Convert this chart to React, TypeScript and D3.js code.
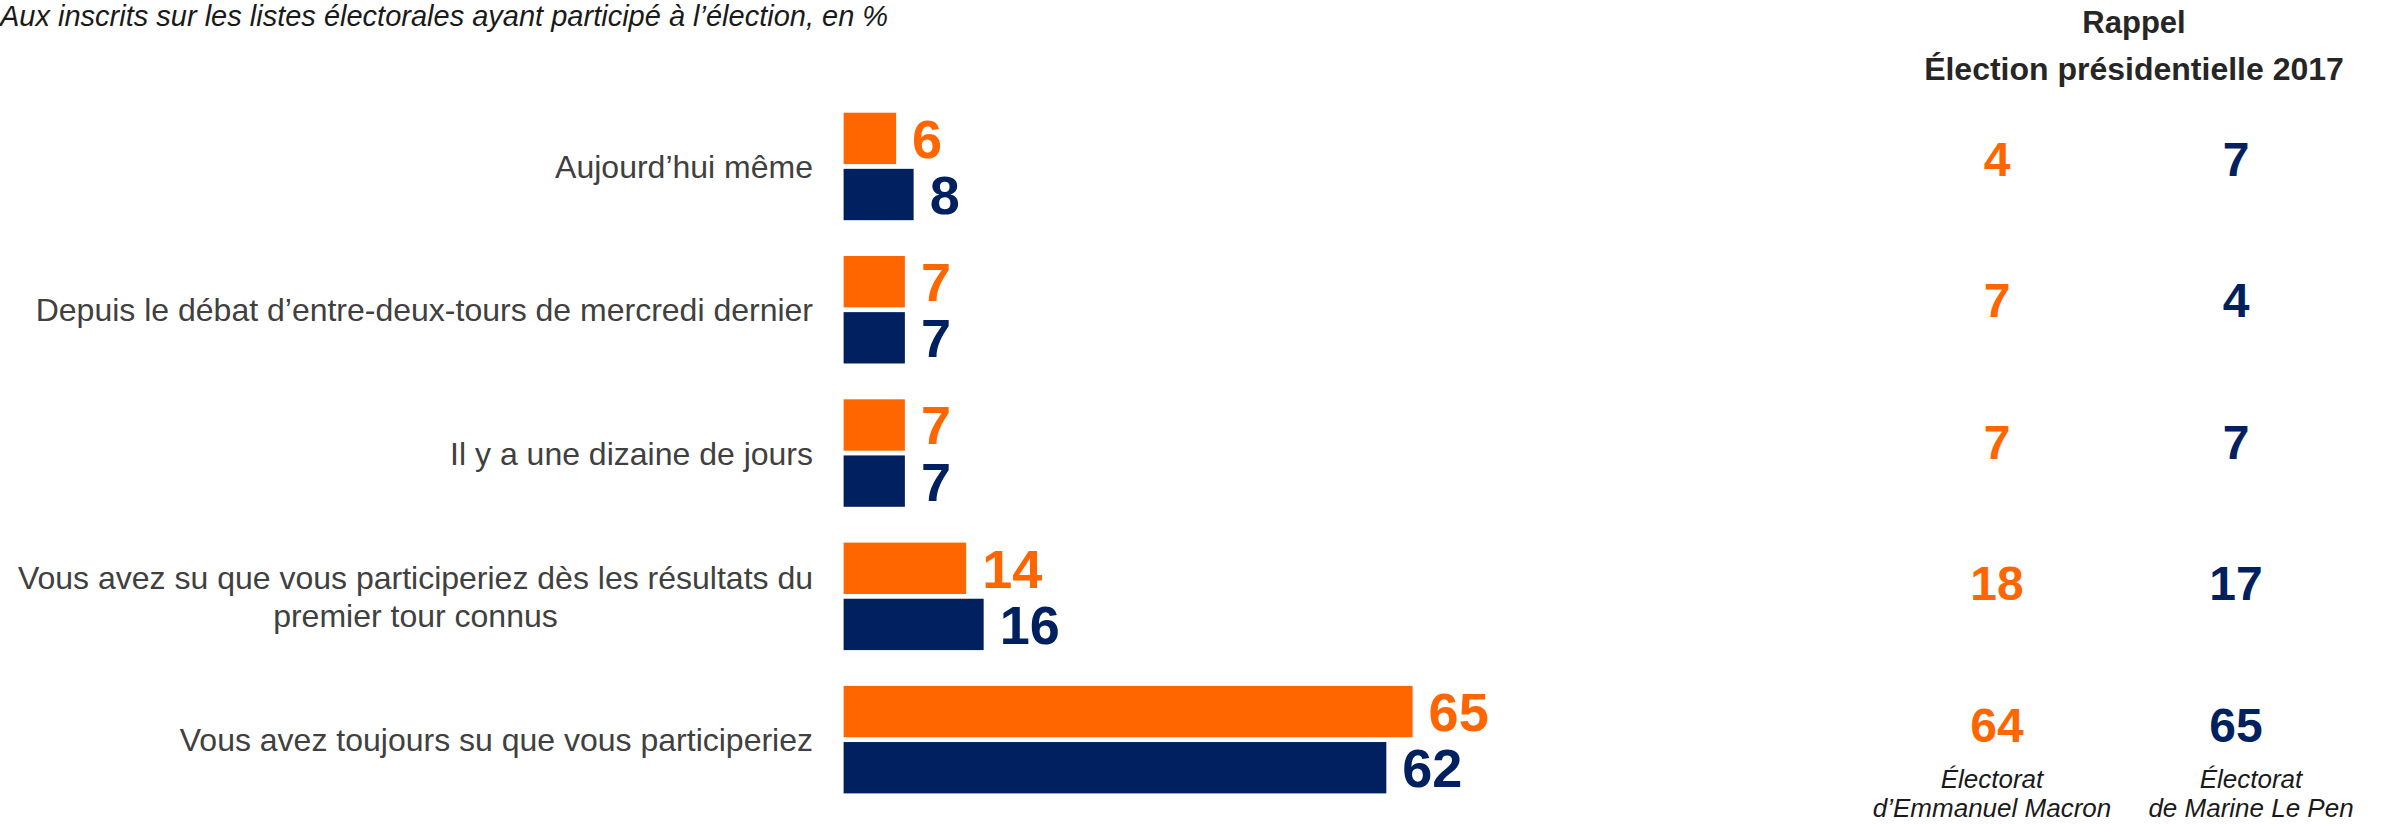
import React, { useEffect, useRef } from "react";
import * as d3 from "d3";

const categories: string[][] = [
  ["Aujourd’hui même"],
  ["Depuis le débat d’entre-deux-tours de mercredi dernier"],
  ["Il y a une dizaine de jours"],
  ["Vous avez su que vous participeriez dès les résultats du", "premier tour connus"],
  ["Vous avez toujours su que vous participeriez"],
];
const seriesKeys = ["macron", "lepen"];
const macron2022: number[] = [6, 7, 7, 14, 65];
const lepen2022: number[] = [8, 7, 7, 16, 62];
const macron2017: number[] = [4, 7, 7, 18, 64];
const lepen2017: number[] = [7, 4, 7, 17, 65];
const titleText = "Aux inscrits sur les listes électorales ayant participé à l’élection, en %";
const rappelLines = ["Rappel", "Élection présidentielle 2017"];
const macronLabel = ["Électorat", "d’Emmanuel Macron"];
const lepenLabel = ["Électorat", "de Marine Le Pen"];

const W = 2392;
const H = 824;
const ORANGE = "#FF6600";
const NAVY = "#002060";
const FONT = "'Liberation Sans', Arial, sans-serif";

export default function App() {
  const ref = useRef<SVGSVGElement | null>(null);

  useEffect(() => {
    const svg = d3.select(ref.current);
    svg.selectAll("*").remove();

    const keys = categories.map((c) => c.join(" "));
    const y = d3
      .scaleBand<string>()
      .domain(keys)
      .range([94.8, 811.3])
      .paddingInner(0.25)
      .paddingOuter(0.125);
    const ySub = d3
      .scaleBand<string>()
      .domain(seriesKeys)
      .range([0, y.bandwidth()])
      .paddingInner(0.085);
    const x = d3.scaleLinear().domain([0, 65]).range([843.6, 1412.6]);
    const color = d3.scaleOrdinal<string, string>().domain(seriesKeys).range([ORANGE, NAVY]);

    const values: Record<string, number[]> = { macron: macron2022, lepen: lepen2022 };

    // title
    svg
      .append("text")
      .attr("x", 0)
      .attr("y", 26)
      .attr("font-family", FONT)
      .attr("font-style", "italic")
      .attr("font-size", 29)
      .attr("fill", "#1a1a1a")
      .text(titleText);

    // category labels
    const labelRight = 813;
    keys.forEach((k, i) => {
      const lines = categories[i];
      const cy = (y(k) as number) + y.bandwidth() / 2;
      const lh = 38;
      const g = svg.append("g");
      const first = g
        .append("text")
        .attr("font-family", FONT)
        .attr("font-size", 32)
        .attr("fill", "#404040")
        .attr("text-anchor", "end")
        .attr("x", labelRight)
        .attr("y", cy - ((lines.length - 1) * lh) / 2 + 11.5)
        .text(lines[0]);
      if (lines.length > 1) {
        const w = (first.node() as SVGTextElement).getComputedTextLength();
        const mid = labelRight - w / 2;
        for (let j = 1; j < lines.length; j++) {
          g.append("text")
            .attr("font-family", FONT)
            .attr("font-size", 32)
            .attr("fill", "#404040")
            .attr("text-anchor", "middle")
            .attr("x", mid)
            .attr("y", cy - ((lines.length - 1) * lh) / 2 + j * lh + 11.5)
            .text(lines[j]);
        }
      }
    });

    // bars
    seriesKeys.forEach((s) => {
      const vals = values[s];
      const g = svg.append("g");
      g.selectAll("rect")
        .data(vals)
        .join("rect")
        .attr("x", x(0))
        .attr("y", (_d, i) => (y(keys[i]) as number) + (ySub(s) as number))
        .attr("width", (d) => x(d) - x(0))
        .attr("height", ySub.bandwidth())
        .attr("fill", color(s));
      g.selectAll("text")
        .data(vals)
        .join("text")
        .attr("x", (d) => x(d) + 16)
        .attr("y", (_d, i) => (y(keys[i]) as number) + (ySub(s) as number) + ySub.bandwidth() / 2 + 19.5)
        .attr("font-family", FONT)
        .attr("font-weight", "bold")
        .attr("font-size", 54)
        .attr("fill", color(s))
        .text((d) => String(d));
    });

    // Rappel header
    const headerX = 2134;
    svg
      .append("text")
      .attr("x", headerX)
      .attr("y", 33)
      .attr("text-anchor", "middle")
      .attr("font-family", FONT)
      .attr("font-weight", "bold")
      .attr("font-size", 31)
      .attr("fill", "#262626")
      .text(rappelLines[0]);
    svg
      .append("text")
      .attr("x", headerX)
      .attr("y", 80)
      .attr("text-anchor", "middle")
      .attr("font-family", FONT)
      .attr("font-weight", "bold")
      .attr("font-size", 32)
      .attr("fill", "#262626")
      .text(rappelLines[1]);

    // 2017 columns
    const yRight = d3.scalePoint<string>().domain(keys).range([176, 741.7]);
    const cols = [
      { vals: macron2017, x: 1997, color: ORANGE, label: macronLabel, lx: 1992 },
      { vals: lepen2017, x: 2236, color: NAVY, label: lepenLabel, lx: 2251 },
    ];
    cols.forEach((c) => {
      svg
        .append("g")
        .selectAll("text")
        .data(c.vals)
        .join("text")
        .attr("x", c.x)
        .attr("y", (_d, i) => yRight(keys[i]) as number)
        .attr("text-anchor", "middle")
        .attr("font-family", FONT)
        .attr("font-weight", "bold")
        .attr("font-size", 48)
        .attr("fill", c.color)
        .text((d) => String(d));
      c.label.forEach((t, j) => {
        svg
          .append("text")
          .attr("x", c.lx)
          .attr("y", 788 + j * 28.5)
          .attr("text-anchor", "middle")
          .attr("font-family", FONT)
          .attr("font-style", "italic")
          .attr("font-size", 26)
          .attr("fill", "#1a1a1a")
          .text(t);
      });
    });
  }, []);

  return (
    <svg
      ref={ref}
      width={W}
      height={H}
      viewBox={`0 0 ${W} ${H}`}
      style={{ position: "absolute", left: 0, top: 0, background: "#ffffff" }}
    />
  );
}
